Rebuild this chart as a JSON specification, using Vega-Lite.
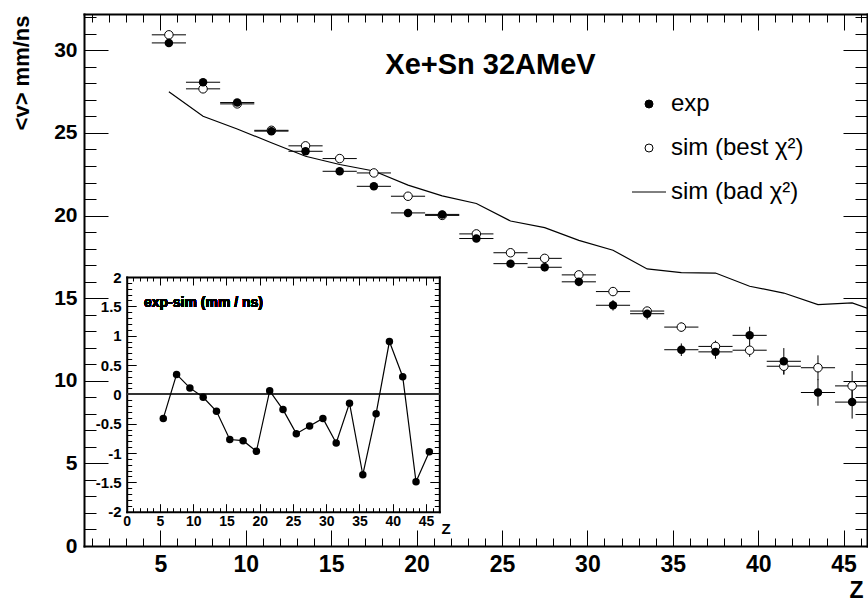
{
  "$schema": "https://vega.github.io/schema/vega-lite/v6.json",
  "width": 783,
  "height": 532,
  "autosize": {"type": "none"},
  "padding": {"left": 84, "top": 14, "right": 1, "bottom": 58},
  "background": "white",
  "title": {"text": "Xe+Sn 32AMeV", "anchor": "middle", "orient": "top", "frame": "group", "offset": -96.5, "baseline": "alphabetic", "dx": 15, "font": "Liberation Sans", "fontSize": 29, "fontWeight": "bold", "color": "black"},
  "datasets": {
    "bins": [
      {"z": 5.5, "zErr": 1, "exp": 30.45, "expErr": 0.08, "sim": 30.94, "simErr": 0.08, "diff": -0.41},
      {"z": 7.5, "zErr": 1, "exp": 28.07, "expErr": 0.08, "sim": 27.67, "simErr": 0.08, "diff": 0.34},
      {"z": 9.5, "zErr": 1, "exp": 26.84, "expErr": 0.1, "sim": 26.76, "simErr": 0.1, "diff": 0.11},
      {"z": 11.5, "zErr": 1, "exp": 25.11, "expErr": 0.1, "sim": 25.16, "simErr": 0.1, "diff": -0.05},
      {"z": 13.5, "zErr": 1, "exp": 23.89, "expErr": 0.12, "sim": 24.22, "simErr": 0.1, "diff": -0.29},
      {"z": 15.5, "zErr": 1, "exp": 22.68, "expErr": 0.14, "sim": 23.45, "simErr": 0.12, "diff": -0.77},
      {"z": 17.5, "zErr": 1, "exp": 21.77, "expErr": 0.15, "sim": 22.58, "simErr": 0.12, "diff": -0.79},
      {"z": 19.5, "zErr": 1, "exp": 20.16, "expErr": 0.17, "sim": 21.17, "simErr": 0.14, "diff": -0.97},
      {"z": 21.5, "zErr": 1, "exp": 20.07, "expErr": 0.18, "sim": 20.01, "simErr": 0.15, "diff": 0.06},
      {"z": 23.5, "zErr": 1, "exp": 18.61, "expErr": 0.2, "sim": 18.89, "simErr": 0.16, "diff": -0.26},
      {"z": 25.5, "zErr": 1, "exp": 17.09, "expErr": 0.22, "sim": 17.75, "simErr": 0.18, "diff": -0.67},
      {"z": 27.5, "zErr": 1, "exp": 16.87, "expErr": 0.24, "sim": 17.41, "simErr": 0.19, "diff": -0.54},
      {"z": 29.5, "zErr": 1, "exp": 15.99, "expErr": 0.27, "sim": 16.41, "simErr": 0.2, "diff": -0.41},
      {"z": 31.5, "zErr": 1, "exp": 14.57, "expErr": 0.32, "sim": 15.40, "simErr": 0.22, "diff": -0.83},
      {"z": 33.5, "zErr": 1, "exp": 14.06, "expErr": 0.35, "sim": 14.22, "simErr": 0.25, "diff": -0.15},
      {"z": 35.5, "zErr": 1, "exp": 11.88, "expErr": 0.38, "sim": 13.25, "simErr": 0.28, "diff": -1.37},
      {"z": 37.5, "zErr": 1, "exp": 11.75, "expErr": 0.42, "sim": 12.08, "simErr": 0.35, "diff": -0.33},
      {"z": 39.5, "zErr": 1, "exp": 12.75, "expErr": 0.52, "sim": 11.85, "simErr": 0.4, "diff": 0.90},
      {"z": 41.5, "zErr": 1, "exp": 11.18, "expErr": 0.8, "sim": 10.88, "simErr": 0.5, "diff": 0.30},
      {"z": 43.5, "zErr": 1, "exp": 9.29, "expErr": 0.8, "sim": 10.79, "simErr": 0.75, "diff": -1.49},
      {"z": 45.5, "zErr": 1, "exp": 8.71, "expErr": 1.0, "sim": 9.69, "simErr": 0.9, "diff": -0.98}
    ],
    "bad": [
      {"z": 5.5, "v": 27.49}, {"z": 7.5, "v": 26.01}, {"z": 9.5, "v": 25.24}, {"z": 11.5, "v": 24.41},
      {"z": 13.5, "v": 23.59}, {"z": 15.5, "v": 23.09}, {"z": 17.5, "v": 22.70}, {"z": 19.5, "v": 21.84},
      {"z": 21.5, "v": 21.19}, {"z": 23.5, "v": 20.73}, {"z": 25.5, "v": 19.67}, {"z": 27.5, "v": 19.27},
      {"z": 29.5, "v": 18.50}, {"z": 31.5, "v": 17.90}, {"z": 33.5, "v": 16.77}, {"z": 35.5, "v": 16.55},
      {"z": 37.5, "v": 16.52}, {"z": 39.5, "v": 15.72}, {"z": 41.5, "v": 15.31}, {"z": 43.5, "v": 14.61},
      {"z": 45.5, "v": 14.71}, {"z": 47.5, "v": 14.0}
    ],
    "legend": [
      {"series": "exp"}, {"series": "sim (best χ²)"}, {"series": "sim (bad χ²)"}
    ]
  },
  "layer": [
    {
      "resolve": {"axis": {"x": "independent", "y": "independent"}},
      "layer": [
        {
          "data": {"name": "bad"},
          "mark": {"type": "line", "color": "black", "strokeWidth": 1.2, "clip": true},
          "encoding": {
            "x": {"field": "z", "type": "quantitative", "scale": {"domain": [0.53, 46.37], "nice": false, "zero": false},
              "axis": {"orient": "bottom", "values": [1,2,3,4,5,6,7,8,9,10,11,12,13,14,15,16,17,18,19,20,21,22,23,24,25,26,27,28,29,30,31,32,33,34,35,36,37,38,39,40,41,42,43,44,45,46],
                "labelExpr": "datum.value % 5 === 0 ? datum.label : ''",
                "tickSize": {"condition": {"test": "datum.value % 5 === 0", "value": -16}, "value": -8},
                "labelPadding": 23, "labelFontSize": 23,
                "title": "Z", "titleFontSize": 23, "titleAnchor": "end", "titleAlign": "right", "titleBaseline": "bottom", "titleX": 779, "titleY": 56}},
            "y": {"field": "v", "type": "quantitative", "scale": {"domain": [0, 32.2], "nice": false, "zero": false},
              "axis": {"orient": "left", "values": [0,1,2,3,4,5,6,7,8,9,10,11,12,13,14,15,16,17,18,19,20,21,22,23,24,25,26,27,28,29,30,31,32],
                "labelExpr": "datum.value % 5 === 0 ? datum.label : ''",
                "tickSize": {"condition": {"test": "datum.value % 5 === 0", "value": -24}, "value": -12},
                "labelPadding": 31, "labelFontSize": 21,
                "title": "<v> mm/ns", "titleFontSize": 22, "titleAngle": 270, "titleAlign": "right", "titleBaseline": "alphabetic", "titleX": -56, "titleY": 1}}
          }
        },
        {
          "data": {"name": "bins"},
          "mark": {"type": "errorbar", "color": "black", "thickness": 1},
          "encoding": {
            "x": {"field": "z", "type": "quantitative", "scale": {"domain": [0.53, 46.37], "nice": false, "zero": false}, "axis": null},
            "xError": {"field": "zErr"},
            "y": {"field": "sim", "type": "quantitative", "scale": {"domain": [0, 32.2], "nice": false, "zero": false}, "axis": null}
          }
        },
        {
          "data": {"name": "bins"},
          "mark": {"type": "errorbar", "color": "black", "thickness": 1},
          "encoding": {
            "x": {"field": "z", "type": "quantitative", "scale": {"domain": [0.53, 46.37], "nice": false, "zero": false}, "axis": null},
            "y": {"field": "sim", "type": "quantitative", "scale": {"domain": [0, 32.2], "nice": false, "zero": false}, "axis": null},
            "yError": {"field": "simErr"}
          }
        },
        {
          "data": {"name": "bins"},
          "mark": {"type": "errorbar", "color": "black", "thickness": 1},
          "encoding": {
            "x": {"field": "z", "type": "quantitative", "scale": {"domain": [0.53, 46.37], "nice": false, "zero": false}, "axis": null},
            "xError": {"field": "zErr"},
            "y": {"field": "exp", "type": "quantitative", "scale": {"domain": [0, 32.2], "nice": false, "zero": false}, "axis": null}
          }
        },
        {
          "data": {"name": "bins"},
          "mark": {"type": "errorbar", "color": "black", "thickness": 1},
          "encoding": {
            "x": {"field": "z", "type": "quantitative", "scale": {"domain": [0.53, 46.37], "nice": false, "zero": false}, "axis": null},
            "y": {"field": "exp", "type": "quantitative", "scale": {"domain": [0, 32.2], "nice": false, "zero": false}, "axis": null},
            "yError": {"field": "expErr"}
          }
        },
        {
          "data": {"name": "bins"},
          "mark": {"type": "point", "shape": "circle", "filled": false, "fill": "white", "fillOpacity": 1, "stroke": "black", "strokeWidth": 1, "size": 72, "opacity": 1},
          "encoding": {
            "x": {"field": "z", "type": "quantitative", "scale": {"domain": [0.53, 46.37], "nice": false, "zero": false}, "axis": null},
            "y": {"field": "sim", "type": "quantitative", "scale": {"domain": [0, 32.2], "nice": false, "zero": false}, "axis": null}
          }
        },
        {
          "data": {"name": "bins"},
          "mark": {"type": "point", "shape": "circle", "filled": true, "color": "black", "size": 72, "opacity": 1},
          "encoding": {
            "x": {"field": "z", "type": "quantitative", "scale": {"domain": [0.53, 46.37], "nice": false, "zero": false},
              "axis": {"orient": "top", "values": [1,2,3,4,5,6,7,8,9,10,11,12,13,14,15,16,17,18,19,20,21,22,23,24,25,26,27,28,29,30,31,32,33,34,35,36,37,38,39,40,41,42,43,44,45,46],
                "labels": false, "title": null,
                "tickSize": {"condition": {"test": "datum.value % 5 === 0", "value": -16}, "value": -8}}},
            "y": {"field": "exp", "type": "quantitative", "scale": {"domain": [0, 32.2], "nice": false, "zero": false},
              "axis": {"orient": "right", "values": [0,1,2,3,4,5,6,7,8,9,10,11,12,13,14,15,16,17,18,19,20,21,22,23,24,25,26,27,28,29,30,31,32],
                "labels": false, "title": null,
                "tickSize": {"condition": {"test": "datum.value % 5 === 0", "value": -24}, "value": -12}}}
          }
        },
        {
          "data": {"name": "legend"},
          "transform": [{"filter": "false"}],
          "mark": {"type": "point", "filled": false, "strokeWidth": 1, "opacity": 1},
          "encoding": {
            "shape": {"field": "series", "type": "nominal",
              "scale": {"domain": ["exp", "sim (best χ²)", "sim (bad χ²)"], "range": ["circle", "circle", "M-4.25,0H4.25"]},
              "legend": {"orient": "none", "legendX": 553, "legendY": 78, "title": null, "padding": 0, "labelFont": "Liberation Sans", "labelFontSize": 24, "labelColor": "black", "labelOffset": 10, "symbolSize": 64, "symbolStrokeWidth": 1, "symbolOpacity": 1, "rowPadding": 20}},
            "fill": {"field": "series", "type": "nominal",
              "scale": {"domain": ["exp", "sim (best χ²)", "sim (bad χ²)"], "range": ["black", "white", "black"]},
              "legend": {"orient": "none", "legendX": 553, "legendY": 78, "title": null, "padding": 0, "labelFont": "Liberation Sans", "labelFontSize": 24, "labelColor": "black", "labelOffset": 10, "symbolSize": 64, "symbolStrokeWidth": 1, "symbolOpacity": 1, "rowPadding": 20}},
            "stroke": {"field": "series", "type": "nominal",
              "scale": {"domain": ["exp", "sim (best χ²)", "sim (bad χ²)"], "range": ["black", "black", "black"]},
              "legend": {"orient": "none", "legendX": 553, "legendY": 78, "title": null, "padding": 0, "labelFont": "Liberation Sans", "labelFontSize": 24, "labelColor": "black", "labelOffset": 10, "symbolSize": 64, "symbolStrokeWidth": 1, "symbolOpacity": 1, "rowPadding": 20}}
          }
        }
      ]
    },
    {
      "data": {"name": "bins"},
      "resolve": {"axis": {"x": "independent", "y": "independent"}},
      "layer": [
        {
          "mark": {"type": "rule", "color": "#333333", "strokeWidth": 1.5},
          "encoding": {
            "x": {"datum": 0, "type": "quantitative", "scale": {"domain": [0, 47], "range": [42.7, 355.3], "nice": false, "zero": false}, "axis": null},
            "x2": {"datum": 47},
            "y": {"datum": 0, "type": "quantitative", "scale": {"domain": [-2, 2], "range": [497.7, 263], "nice": false, "zero": false}, "axis": null}
          }
        },
        {
          "mark": {"type": "line", "color": "black", "strokeWidth": 1.2},
          "encoding": {
            "x": {"field": "z", "type": "quantitative", "scale": {"domain": [0, 47], "range": [42.7, 355.3], "nice": false, "zero": false},
              "axis": {"orient": "bottom", "offset": -34.3, "values": [0,1,2,3,4,5,6,7,8,9,10,11,12,13,14,15,16,17,18,19,20,21,22,23,24,25,26,27,28,29,30,31,32,33,34,35,36,37,38,39,40,41,42,43,44,45,46,47],
                "labelExpr": "datum.value % 5 === 0 ? datum.label : ''",
                "tickSize": {"condition": {"test": "datum.value % 5 === 0", "value": -8}, "value": -4},
                "labelPadding": 11, "labelFontSize": 14,
                "title": "Z", "titleFontSize": 15, "titleAnchor": "start", "titleAlign": "left", "titleBaseline": "alphabetic", "titleX": 357, "titleY": 22}},
            "y": {"field": "diff", "type": "quantitative", "scale": {"domain": [-2, 2], "range": [497.7, 263], "nice": false, "zero": false},
              "axis": {"orient": "left", "offset": -42.7, "values": [-2,-1.9,-1.8,-1.7,-1.6,-1.5,-1.4,-1.3,-1.2,-1.1,-1,-0.9,-0.8,-0.7,-0.6,-0.5,-0.4,-0.3,-0.2,-0.1,0,0.1,0.2,0.3,0.4,0.5,0.6,0.7,0.8,0.9,1,1.1,1.2,1.3,1.4,1.5,1.6,1.7,1.8,1.9,2],
                "labelExpr": "abs(round(datum.value*10)) % 5 === 0 ? ('' + round(datum.value*10)/10) : ''",
                "tickSize": {"condition": {"test": "abs(round(datum.value*10)) % 5 === 0", "value": -9.5}, "value": -5},
                "labelPadding": 15, "labelFontSize": 15, "title": null}}
          }
        },
        {
          "mark": {"type": "point", "shape": "circle", "filled": true, "color": "black", "size": 56, "opacity": 1},
          "encoding": {
            "x": {"field": "z", "type": "quantitative", "scale": {"domain": [0, 47], "range": [42.7, 355.3], "nice": false, "zero": false},
              "axis": {"orient": "top", "offset": -263, "values": [0,1,2,3,4,5,6,7,8,9,10,11,12,13,14,15,16,17,18,19,20,21,22,23,24,25,26,27,28,29,30,31,32,33,34,35,36,37,38,39,40,41,42,43,44,45,46,47],
                "labels": false, "title": null,
                "tickSize": {"condition": {"test": "datum.value % 5 === 0", "value": -8}, "value": -4}}},
            "y": {"field": "diff", "type": "quantitative", "scale": {"domain": [-2, 2], "range": [497.7, 263], "nice": false, "zero": false},
              "axis": {"orient": "right", "offset": -427.7, "values": [-2,-1.9,-1.8,-1.7,-1.6,-1.5,-1.4,-1.3,-1.2,-1.1,-1,-0.9,-0.8,-0.7,-0.6,-0.5,-0.4,-0.3,-0.2,-0.1,0,0.1,0.2,0.3,0.4,0.5,0.6,0.7,0.8,0.9,1,1.1,1.2,1.3,1.4,1.5,1.6,1.7,1.8,1.9,2],
                "labels": false, "title": null,
                "tickSize": {"condition": {"test": "abs(round(datum.value*10)) % 5 === 0", "value": -9.5}, "value": -5}}}
          }
        },
        {
          "mark": {"type": "text", "text": "exp-sim (mm / ns)", "align": "left", "baseline": "middle", "font": "Liberation Sans", "fontWeight": "bold", "fontSize": 14, "color": "black"},
          "encoding": {
            "x": {"datum": 2.6, "type": "quantitative", "scale": {"domain": [0, 47], "range": [42.7, 355.3], "nice": false, "zero": false}, "axis": null},
            "y": {"datum": 1.556, "type": "quantitative", "scale": {"domain": [-2, 2], "range": [497.7, 263], "nice": false, "zero": false}, "axis": null}
          }
        }
      ]
    }
  ],
  "resolve": {"scale": {"x": "independent", "y": "independent"}, "axis": {"x": "independent", "y": "independent"}},
  "config": {
    "view": {"stroke": null},
    "font": "Liberation Sans",
    "axis": {"grid": false, "domainColor": "black", "domainWidth": 2, "domainCap": "square", "tickColor": "black", "tickWidth": 1,
      "labelColor": "black", "labelFont": "Liberation Sans", "labelFontWeight": "bold", "titleColor": "black", "titleFont": "Liberation Sans", "titleFontWeight": "bold",
      "labelFlush": false, "labelOverlap": false, "labelBound": false, "titlePadding": 0}
  }
}
